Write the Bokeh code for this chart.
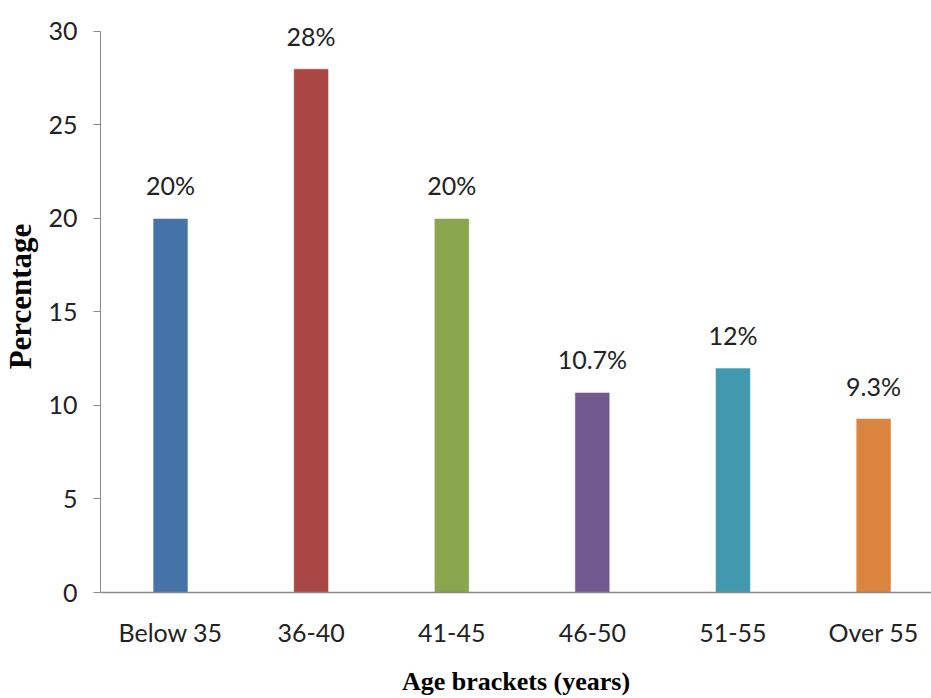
from bokeh.plotting import figure
from bokeh.models import ColumnDataSource, Range1d, FixedTicker, LabelSet
from bokeh.core.properties import value
from bokeh.embed import file_html
from bokeh.resources import INLINE

categories = ["Below 35", "36-40", "41-45", "46-50", "51-55", "Over 55"]
values = [20, 28, 20, 10.7, 12, 9.3]
labels = ["20%", "28%", "20%", "10.7%", "12%", "9.3%"]
colors = ["#4572A7", "#AA4643", "#89A54E", "#71588F", "#4198AF", "#DB843D"]
y_ticks = [0, 5, 10, 15, 20, 25, 30]

xs = list(range(len(categories)))
src = ColumnDataSource(dict(x=xs, top=values, label=labels, color=colors))

Y_TOP = 30 * 593 / (593 - 31)
p = figure(width=931, height=698, output_backend="svg", toolbar_location=None,
           x_range=Range1d(-0.498, 5.412), y_range=Range1d(0, Y_TOP),
           min_border_left=96, min_border_right=0, min_border_top=0, min_border_bottom=0)
p.outline_line_color = None
p.grid.visible = False
p.background_fill_color = "white"
p.border_fill_color = "white"

p.vbar(x="x", top="top", width=0.248, bottom=0, fill_color="color",
       line_color="white", line_alpha=0.5, line_width=1, source=src)

FONT = "Lato"
lbl = LabelSet(x="x", y="top", text="label", source=src, text_align="center",
               text_baseline="alphabetic", y_offset=23,
               text_font=value(FONT), text_font_size=value("25px"),
               text_color=value("#222222"))
p.add_layout(lbl)

# x axis
xa = p.xaxis[0]
xa.ticker = FixedTicker(ticks=xs)
xa.major_label_overrides = {i: c for i, c in enumerate(categories)}
xa.major_tick_out = 0
xa.major_tick_in = 0
xa.minor_tick_out = 0
xa.minor_tick_in = 0
xa.axis_line_color = "#8c8c8c"
xa.axis_line_width = 1.5
xa.major_label_text_font = FONT
xa.major_label_text_font_size = "25px"
xa.major_label_text_color = "#222222"
xa.major_label_standoff = 24
xa.axis_label = "Age brackets (years)"
xa.axis_label_text_font = "Liberation Serif"
xa.axis_label_text_font_style = "bold"
xa.axis_label_text_font_size = "26px"
xa.axis_label_text_color = "black"
xa.axis_label_standoff = 17

# y axis
ya = p.yaxis[0]
ya.ticker = FixedTicker(ticks=y_ticks)
ya.bounds = (0, 30)
ya.major_tick_out = 7
ya.major_tick_in = 0
ya.minor_tick_out = 0
ya.minor_tick_in = 0
ya.axis_line_color = "#8c8c8c"
ya.major_tick_line_color = "#8c8c8c"
ya.major_label_text_font = FONT
ya.major_label_text_font_size = "25px"
ya.major_label_text_color = "#222222"
ya.major_label_standoff = 16
ya.axis_label = "Percentage"
ya.axis_label_text_font = "Liberation Serif"
ya.axis_label_text_font_style = "bold"
ya.axis_label_text_font_size = "31px"
ya.axis_label_text_color = "black"
ya.axis_label_standoff = 7

open("out.html", "w").write(file_html(p, INLINE))
